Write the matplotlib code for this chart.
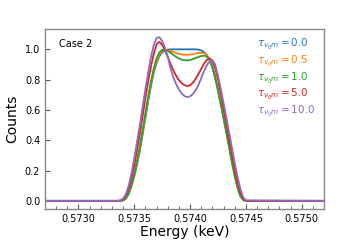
import numpy as np
import matplotlib
matplotlib.use("Agg")
import matplotlib.pyplot as plt
from matplotlib.ticker import FormatStrFormatter, AutoMinorLocator

# energy grid (keV)
energy = [0.5727,
          0.573350, 0.573375, 0.573400, 0.573425, 0.573450, 0.573475, 0.573500, 0.573525,
          0.573550, 0.573575, 0.573600, 0.573625, 0.573650, 0.573675, 0.573700, 0.573725,
          0.573750, 0.573775, 0.573800, 0.573825, 0.573850, 0.573875, 0.573900, 0.573925,
          0.573950, 0.573975, 0.574000, 0.574025, 0.574050, 0.574075, 0.574100, 0.574125,
          0.574150, 0.574175, 0.574200, 0.574225, 0.574250, 0.574275, 0.574300, 0.574325,
          0.574350, 0.574375, 0.574400, 0.574425, 0.574450, 0.574475, 0.574500,
          0.5752]

tau_labels = ["0.0", "0.5", "1.0", "5.0", "10.0"]

counts_00 = [0.0,
             0.0, 0.0, 0.003, 0.015, 0.045, 0.095, 0.16, 0.24,
             0.33, 0.44, 0.55, 0.66, 0.76, 0.85, 0.91, 0.955,
             0.98, 0.993, 0.998, 1.0, 1.0, 1.0, 1.0, 1.0,
             1.0, 1.0, 1.0, 1.0, 1.0, 0.998, 0.993, 0.982,
             0.962, 0.93, 0.88, 0.81, 0.73, 0.64, 0.55, 0.46,
             0.37, 0.27, 0.18, 0.10, 0.045, 0.01, 0.0,
             0.0]

counts_05 = [0.0,
             0.0, 0.0, 0.004, 0.017, 0.05, 0.1, 0.17, 0.25,
             0.345, 0.455, 0.565, 0.675, 0.775, 0.86, 0.92, 0.965,
             0.99, 0.997, 0.995, 0.99, 0.983, 0.976, 0.97, 0.966,
             0.964, 0.964, 0.966, 0.969, 0.973, 0.976, 0.977, 0.975,
             0.963, 0.935, 0.885, 0.815, 0.735, 0.645, 0.55, 0.455,
             0.36, 0.265, 0.175, 0.095, 0.04, 0.01, 0.0,
             0.0]

counts_10 = [0.0,
             0.0, 0.0, 0.005, 0.02, 0.055, 0.11, 0.18, 0.265,
             0.36, 0.47, 0.58, 0.69, 0.79, 0.875, 0.94, 0.98,
             0.997, 0.997, 0.99, 0.978, 0.963, 0.95, 0.94, 0.932,
             0.928, 0.927, 0.93, 0.936, 0.943, 0.95, 0.956, 0.958,
             0.952, 0.93, 0.885, 0.815, 0.73, 0.64, 0.545, 0.45,
             0.35, 0.25, 0.16, 0.085, 0.03, 0.005, 0.0,
             0.0]

counts_50 = [0.0,
             0.0, 0.002, 0.01, 0.035, 0.08, 0.15, 0.235, 0.335,
             0.445, 0.56, 0.68, 0.79, 0.89, 0.97, 1.035, 1.05,
             1.03, 0.995, 0.95, 0.905, 0.862, 0.825, 0.797, 0.776,
             0.763, 0.758, 0.762, 0.78, 0.805, 0.838, 0.872, 0.905,
             0.93, 0.94, 0.925, 0.875, 0.8, 0.71, 0.61, 0.51,
             0.41, 0.31, 0.21, 0.12, 0.055, 0.015, 0.0,
             0.0]

counts_100 = [0.0,
              0.0, 0.003, 0.015, 0.045, 0.1, 0.18, 0.28, 0.39,
              0.5, 0.62, 0.74, 0.85, 0.95, 1.03, 1.075, 1.08,
              1.055, 1.01, 0.95, 0.875, 0.815, 0.77, 0.735, 0.708,
              0.692, 0.685, 0.69, 0.705, 0.73, 0.765, 0.81, 0.855,
              0.895, 0.922, 0.928, 0.9, 0.825, 0.74, 0.645, 0.55,
              0.45, 0.35, 0.25, 0.16, 0.08, 0.025, 0.003,
              0.0]

series = [counts_00, counts_05, counts_10, counts_50, counts_100]
colors = ["#1f77b4", "#ff7f0e", "#2ca02c", "#d62728", "#9467bd"]

fig = plt.figure(figsize=(3.6, 2.4), dpi=100)
ax = fig.add_axes([0.125, 0.129, 0.775, 0.75])

for y, c, lab in zip(series, colors, tau_labels):
    ax.plot(energy, y, color=c, lw=1.3, label=r"$\tau_{\nu_0 m} = $" + "$" + lab + "$")

ax.set_xlim(0.5727, 0.5752)
ax.set_xticks([0.5730, 0.5735, 0.5740, 0.5745, 0.5750])
ax.xaxis.set_major_formatter(FormatStrFormatter("%.4f"))
ax.xaxis.set_minor_locator(AutoMinorLocator(5))
ax.set_yticks([0.0, 0.2, 0.4, 0.6, 0.8, 1.0])
ax.yaxis.set_major_formatter(FormatStrFormatter("%.1f"))

for s in ax.spines.values():
    s.set_color("#888888")
    s.set_linewidth(1.0)
ax.tick_params(which="both", direction="in", colors="#555555", labelcolor="black", labelsize=7)
ax.tick_params(which="major", length=3.5)
ax.tick_params(which="minor", length=2)

ax.set_xlabel("Energy (keV)", fontsize=10, labelpad=1)
ax.set_ylabel("Counts", fontsize=10)
ax.text(0.05, 0.9, "Case 2", transform=ax.transAxes, fontsize=7)

leg = ax.legend(loc="upper right", frameon=False, handlelength=0, handletextpad=0,
                labelcolor="linecolor", fontsize=7.5, labelspacing=0.15, borderaxespad=0.4)
for h in leg.legend_handles:
    h.set_visible(False)

fig.savefig("out.png", dpi=100)
